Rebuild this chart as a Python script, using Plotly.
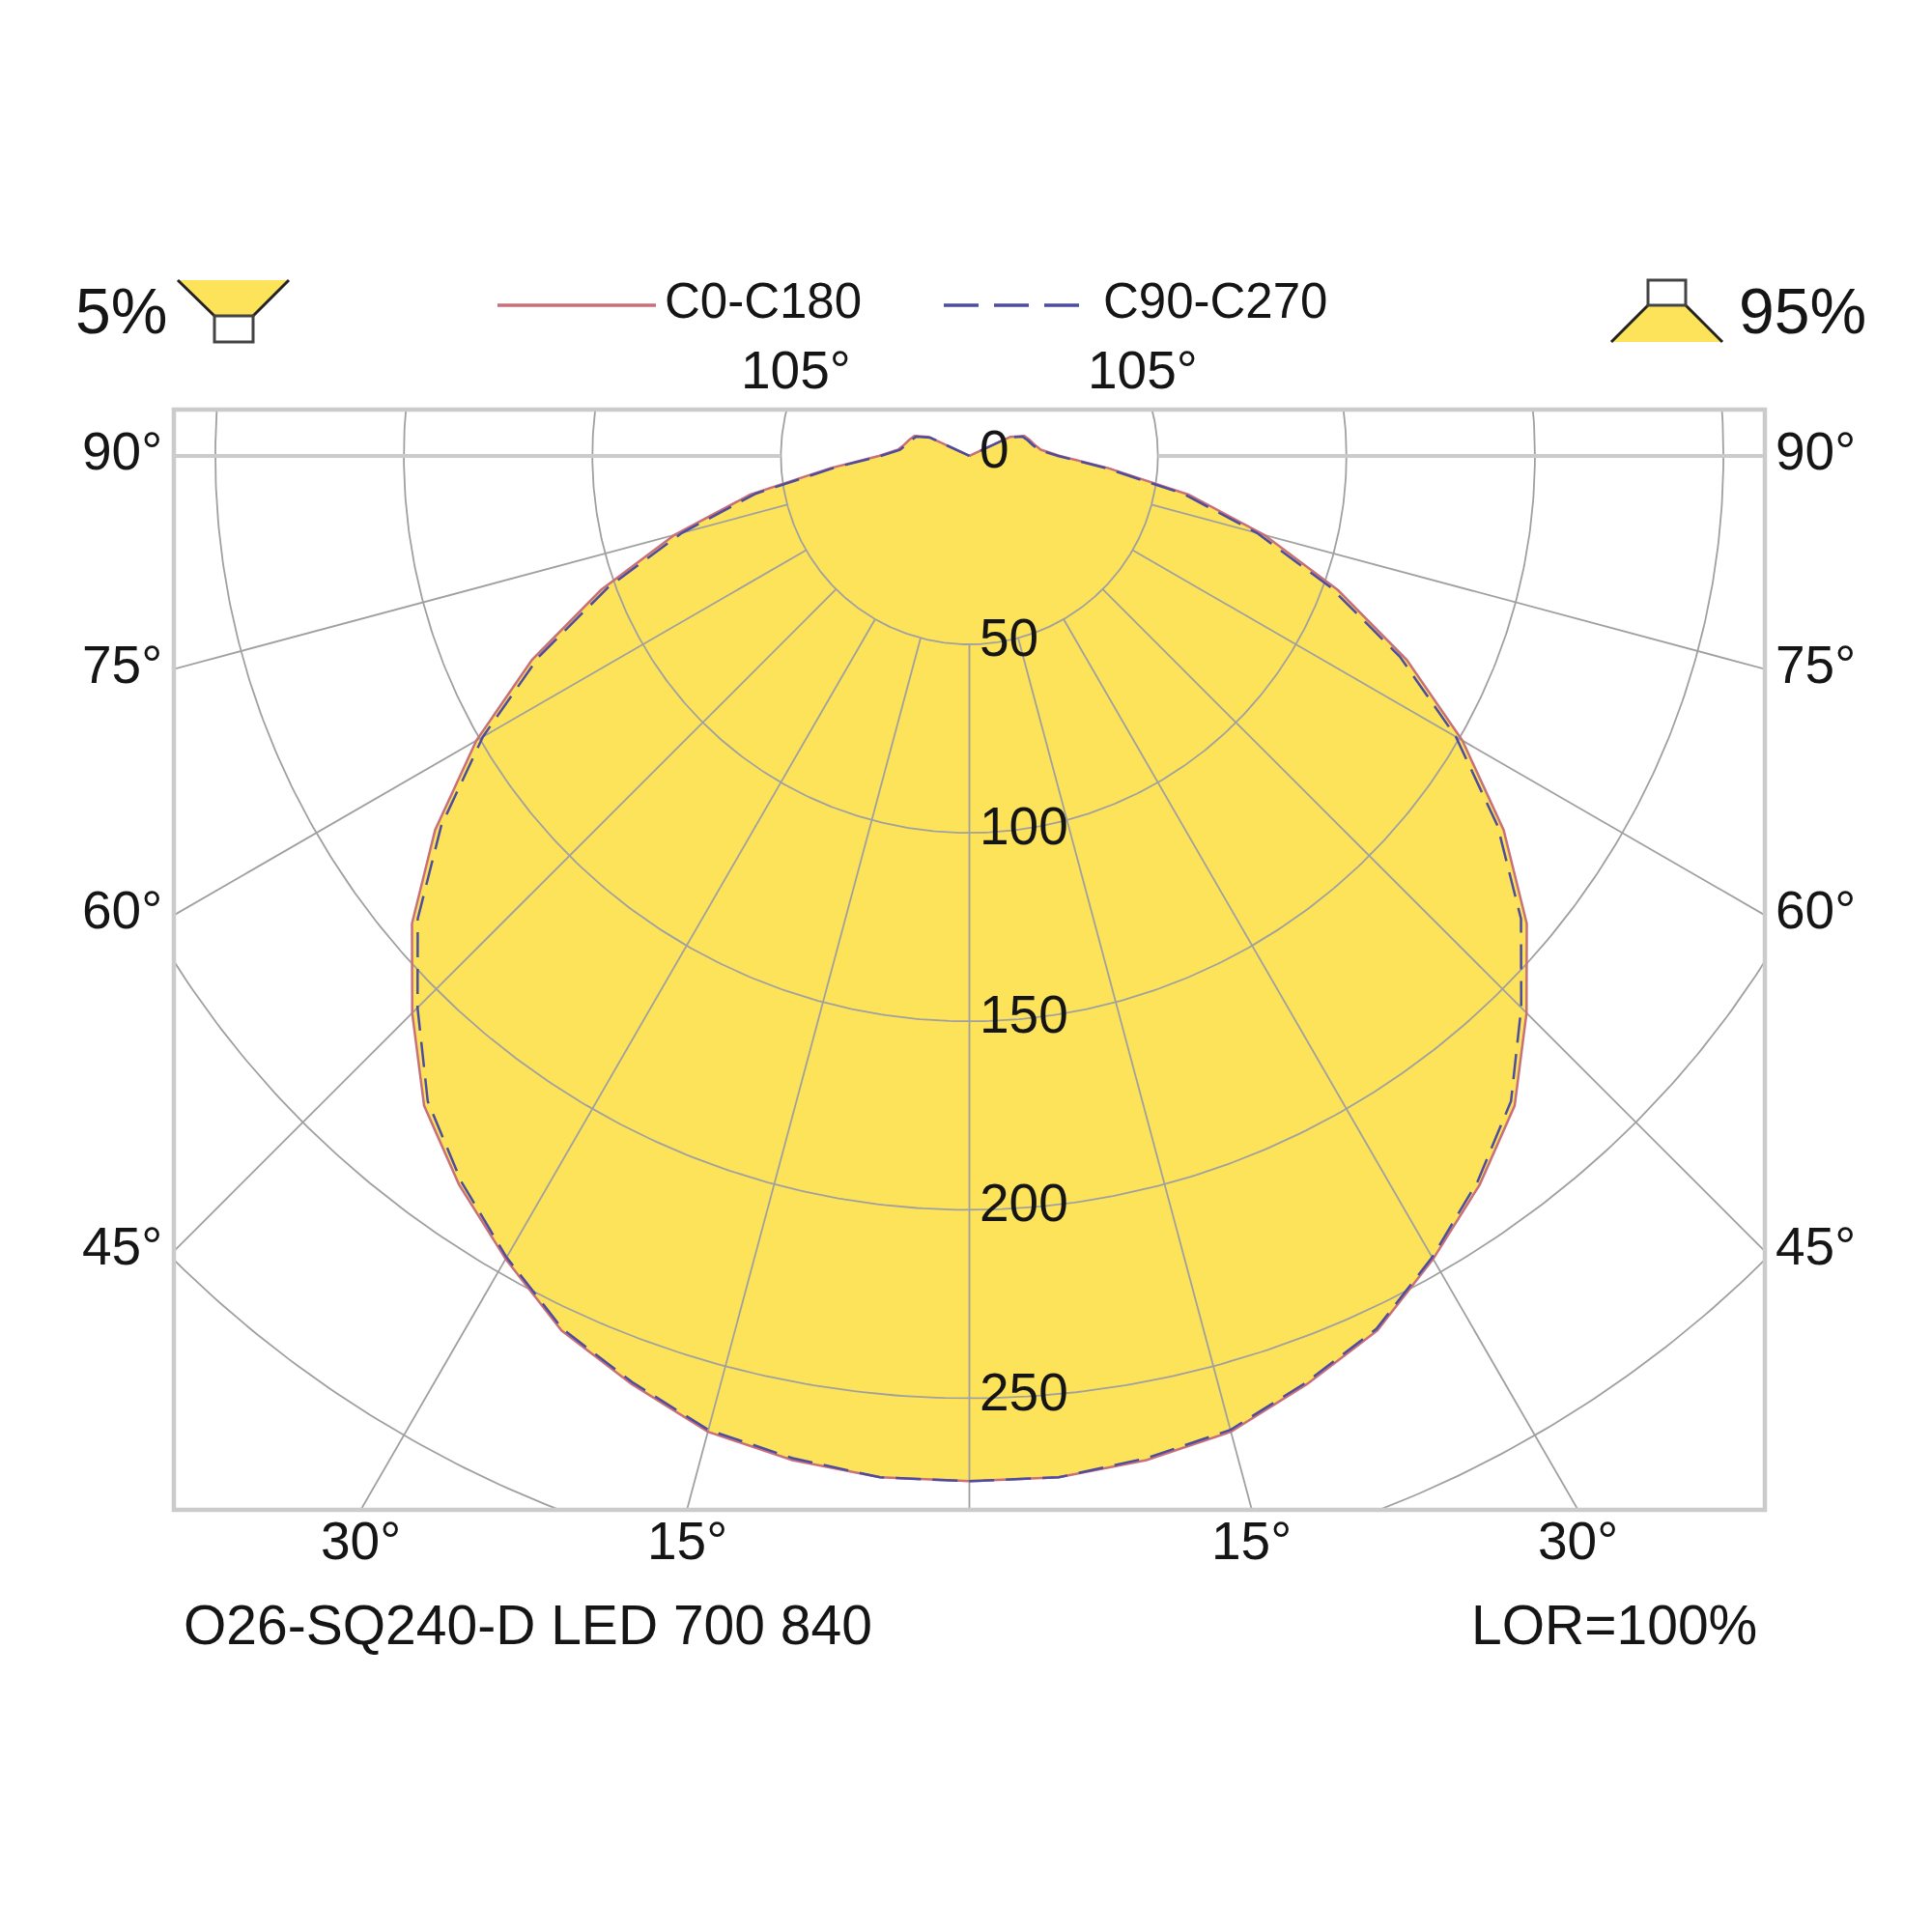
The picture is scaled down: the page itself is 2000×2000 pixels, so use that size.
import numpy as np
import plotly.graph_objects as go

font_family = 'Liberation Sans'

# luminous intensity distribution, cd/klm, gamma measured from nadir
gamma = [0, 5, 10, 15, 20, 25, 30, 35, 40, 45, 50, 55, 60, 65, 70, 75, 80, 85,
         90, 95, 100, 105, 110, 115, 120, 125, 130, 135, 140, 145, 150, 155,
         160, 165, 170, 175, 180]
i_c0_c180 = [272, 272, 270.5, 268, 262, 256, 246, 236, 225, 209, 193, 173, 151,
             128, 104, 81, 59, 37, 24, 19, 17.5, 16.5, 15.5, 12, 0, 0, 0, 0, 0,
             0, 0, 0, 0, 0, 0, 0, 0]
i_c90_c270 = [272, 272, 270, 267.5, 261.5, 255.5, 245.5, 235, 223.5, 207, 191,
              171, 149, 126, 102, 79, 57.5, 36, 23.5, 18.5, 17, 16, 15, 11.5, 0,
              0, 0, 0, 0, 0, 0, 0, 0, 0, 0, 0, 0]

ring_values = [50, 100, 150, 200, 250, 300, 350]
ring_labels = ['0', '50', '100', '150', '200', '250']
radial_angles = [15, 30, 45, 60, 75]
side_angles = [90, 75, 60, 45]
bottom_angles = [30, 15]
top_angle = 105

series_names = ['C0-C180', 'C90-C270']
fill_color = '#fde35a'
red = '#c8707a'
blue = '#4c4ca0'
grid = '#a0a0a0'
frame = '#cbcbcb'

# axis window (cd/klm units) and plot area in page pixels
x_rng = [-211, 211]
y_rng = [-279.6, 12.3]
PL, PR, PT, PB = 180, 1827, 424, 1563
OFF = 8  # page body margin


def px(x):
    return (x - PL) / (PR - PL)


def py(y):
    return (PB - y) / (PB - PT)


def dx2paper(x):
    return (x - x_rng[0]) / (x_rng[1] - x_rng[0])


def dy2paper(y):
    return (y - y_rng[0]) / (y_rng[1] - y_rng[0])


def full_curve(vals):
    g = np.array(gamma, float)
    v = np.array(vals, float)
    gg = np.radians(np.concatenate([-g[::-1], g[1:]]))
    vv = np.concatenate([v[::-1], v[1:]])
    return vv * np.sin(gg), -vv * np.cos(gg)


fig = go.Figure()

# filled distribution
cx, cy = full_curve(i_c0_c180)
fig.add_trace(go.Scatter(x=cx, y=cy, mode='lines', fill='toself',
                         fillcolor=fill_color, line=dict(width=0),
                         showlegend=False, hoverinfo='skip'))

# polar grid: circles
t = np.linspace(0, 2 * np.pi, 721)
gx, gy = [], []
for r in ring_values:
    gx += list(r * np.cos(t)) + [None]
    gy += list(r * np.sin(t)) + [None]
# radial lines from the first ring outwards
for a in [0] + radial_angles + [-a for a in radial_angles]:
    ar = np.radians(a)
    gx += [50 * np.sin(ar), 500 * np.sin(ar), None]
    gy += [-50 * np.cos(ar), -500 * np.cos(ar), None]
fig.add_trace(go.Scatter(x=gx, y=gy, mode='lines',
                         line=dict(color=grid, width=1.8),
                         showlegend=False, hoverinfo='skip'))
# 90 degree line
fig.add_trace(go.Scatter(x=[-500, -50, None, 50, 500], y=[0, 0, None, 0, 0],
                         mode='lines', line=dict(color=frame, width=4),
                         showlegend=False, hoverinfo='skip'))

# curves
x0, y0 = full_curve(i_c0_c180)
fig.add_trace(go.Scatter(x=x0, y=y0, mode='lines', name=series_names[0],
                         line=dict(color=red, width=2.5), showlegend=False))
x9, y9 = full_curve(i_c90_c270)
fig.add_trace(go.Scatter(x=x9, y=y9, mode='lines', name=series_names[1],
                         line=dict(color=blue, width=2.5, dash='26px,12px'),
                         showlegend=False))

ann = []
txt = dict(family=font_family, size=55, color='#151515')

# intensity labels on the vertical axis
for k, lab in enumerate(ring_labels):
    ann.append(dict(x=2.2, y=-50 * k, xref='x', yref='y', text=lab,
                    xanchor='left', yanchor='middle', showarrow=False,
                    yshift=7, font=txt))

# angle labels on the frame
for a in side_angles:
    yd = 0 if a == 90 else x_rng[0] / np.tan(np.radians(a))
    ann.append(dict(x=px(170), y=dy2paper(yd), xref='paper', yref='paper',
                    text='%d°' % a, xanchor='right', yanchor='middle',
                    yshift=5, showarrow=False, font=txt))
    ann.append(dict(x=px(1836), y=dy2paper(yd), xref='paper', yref='paper',
                    text='%d°' % a, xanchor='left', yanchor='middle',
                    yshift=5, showarrow=False, font=txt))
for a in bottom_angles:
    xd = -y_rng[0] * np.tan(np.radians(a))
    for s in (-1, 1):
        ann.append(dict(x=dx2paper(s * xd), y=py(1595), xref='paper',
                        yref='paper', text='%d°' % a, xanchor='center',
                        yanchor='middle', showarrow=False, font=txt))
xd = y_rng[1] / np.tan(np.radians(top_angle - 90))
for s in (-1, 1):
    ann.append(dict(x=dx2paper(s * xd), y=py(383), xref='paper', yref='paper',
                    text='%d°' % top_angle, xanchor='center', yanchor='middle',
                    showarrow=False, font=txt))

# legend
leg = dict(family=font_family, size=51, color='#151515')
ann.append(dict(x=px(686), y=py(312), xref='paper', yref='paper',
                text=series_names[0], xanchor='left', yanchor='middle',
                showarrow=False, font=leg))
ann.append(dict(x=px(1140), y=py(312), xref='paper', yref='paper',
                text=series_names[1], xanchor='left', yanchor='middle',
                showarrow=False, font=leg))

# percentages
big = dict(family=font_family, size=66, color='#151515')
ann.append(dict(x=px(76), y=py(322), xref='paper', yref='paper', text='5%',
                xanchor='left', yanchor='middle', showarrow=False, font=big))
ann.append(dict(x=px(1934), y=py(322), xref='paper', yref='paper', text='95%',
                xanchor='right', yanchor='middle', showarrow=False, font=big))

# footer
foot = dict(family=font_family, size=57, color='#151515')
ann.append(dict(x=px(188), y=py(1682), xref='paper', yref='paper',
                text='O26-SQ240-D LED 700 840', xanchor='left',
                yanchor='middle', showarrow=False, font=foot))
ann.append(dict(x=px(1821), y=py(1682), xref='paper', yref='paper',
                text='LOR=100%', xanchor='right', yanchor='middle',
                showarrow=False, font=foot))


def pp(x, y):
    return '%f,%f' % (px(x), py(y))


shapes = [
    dict(type='rect', xref='paper', yref='paper', x0=0, x1=1, y0=0, y1=1,
         line=dict(color=frame, width=4.5), layer='above'),
    # legend samples
    dict(type='line', xref='paper', yref='paper', x0=px(515), x1=px(679),
         y0=py(316), y1=py(316), line=dict(color=red, width=3.5)),
    dict(type='line', xref='paper', yref='paper', x0=px(977), x1=px(1132),
         y0=py(316), y1=py(316),
         line=dict(color=blue, width=3.5, dash='36px,16px')),
    # downlight icon (left)
    dict(type='path', xref='paper', yref='paper',
         path='M %s L %s L %s L %s Z' % (pp(184, 290), pp(299, 290),
                                         pp(262, 327), pp(222, 327)),
         fillcolor=fill_color, line=dict(width=0)),
    dict(type='path', xref='paper', yref='paper',
         path='M %s L %s M %s L %s' % (pp(184, 290), pp(222, 327),
                                       pp(299, 290), pp(262, 327)),
         line=dict(color='#222222', width=3)),
    dict(type='rect', xref='paper', yref='paper', x0=px(222), x1=px(262),
         y0=py(327), y1=py(354), fillcolor='white',
         line=dict(color='#444444', width=3)),
    # uplight icon (right)
    dict(type='path', xref='paper', yref='paper',
         path='M %s L %s L %s L %s Z' % (pp(1706, 316), pp(1745, 316),
                                         pp(1783, 354), pp(1668, 354)),
         fillcolor=fill_color, line=dict(width=0)),
    dict(type='path', xref='paper', yref='paper',
         path='M %s L %s M %s L %s' % (pp(1706, 316), pp(1668, 354),
                                       pp(1745, 316), pp(1783, 354)),
         line=dict(color='#222222', width=3)),
    dict(type='rect', xref='paper', yref='paper', x0=px(1706), x1=px(1745),
         y0=py(290), y1=py(316), fillcolor='white',
         line=dict(color='#444444', width=3)),
]

fig.update_layout(
    width=2000, height=2000,
    margin=dict(l=PL - OFF, r=2000 + OFF - PR, t=PT - OFF,
                b=2000 + OFF - PB, pad=0),
    paper_bgcolor='white', plot_bgcolor='white',
    font=dict(family=font_family),
    xaxis=dict(range=x_rng, visible=False, showgrid=False, zeroline=False),
    yaxis=dict(range=y_rng, visible=False, showgrid=False, zeroline=False),
    annotations=ann, shapes=shapes, showlegend=False,
)

fig.write_html('out.html')
